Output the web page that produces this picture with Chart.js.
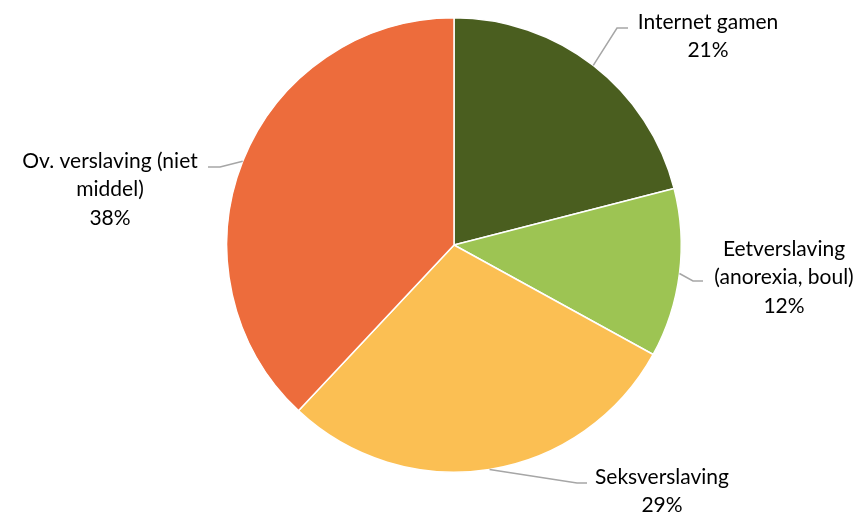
<!DOCTYPE html>
<html>
<head>
<meta charset="utf-8">
<script src="https://cdn.jsdelivr.net/npm/chart.js@4/dist/chart.umd.min.js"></script>
<style>
  html, body { margin:0; padding:0; background:#fff; }
  #wrap { width:865px; height:515px; }
</style>
</head>
<body>
<div id="wrap"><canvas id="pie" width="865" height="515"></canvas></div>
<script>
// --------- DATA ----------
const categories = ['Internet gamen', 'Eetverslaving (anorexia, boul)', 'Seksverslaving', 'Ov. verslaving (niet middel)'];
const labelLines = [
  ['Internet gamen'],
  ['Eetverslaving', '(anorexia, boul)'],
  ['Seksverslaving'],
  ['Ov. verslaving (niet', 'middel)']
];
const shares = [21, 12, 29, 38];
const colors = ['#4a5e1f', '#9dc453', '#fbbf53', '#ed6c3c'];

// --------- LABEL LAYOUT (elbow + line end + text block) ----------
const labelLayout = [
  {elbow:[617,28],  end:[628,28],  tx:708, ty:22},
  {elbow:[693,281], end:[703,281], tx:784, ty:249},
  {elbow:[577,483], end:[587,483], tx:662, ty:477},
  {elbow:[220,167], end:[208,167], tx:110, ty:161}
];

const calloutPlugin = {
  id:'callouts',
  afterDraw(chart){
    const ctx = chart.ctx;
    const meta = chart.getDatasetMeta(0);
    ctx.save();
    meta.data.forEach((arc, i)=>{
      const p = arc.getProps(['x','y','startAngle','endAngle','outerRadius'], true);
      const mid = (p.startAngle + p.endAngle) / 2;
      const sx = p.x + Math.cos(mid) * p.outerRadius;
      const sy = p.y + Math.sin(mid) * p.outerRadius;
      const L = labelLayout[i];
      ctx.strokeStyle = '#a6a6a6';
      ctx.lineWidth = 1.5;
      ctx.beginPath();
      ctx.moveTo(sx, sy);
      ctx.lineTo(L.elbow[0], L.elbow[1]);
      ctx.lineTo(L.end[0], L.end[1]);
      ctx.stroke();

      ctx.fillStyle = '#000';
      ctx.font = '21px Lato, "Liberation Sans", sans-serif';
      ctx.textAlign = 'center';
      ctx.textBaseline = 'middle';
      const lines = labelLines[i].concat([shares[i] + '%']);
      lines.forEach((t, k)=> ctx.fillText(t, L.tx, L.ty + k * 28.7));
    });
    ctx.restore();
  }
};

new Chart(document.getElementById('pie'), {
  type:'pie',
  data:{
    labels: categories,
    datasets:[{
      data: shares,
      backgroundColor: colors,
      borderColor:'#ffffff',
      borderWidth:1.5
    }]
  },
  options:{
    responsive:false,
    maintainAspectRatio:false,
    animation:false,
    layout:{padding:{left:226, right:183, top:17, bottom:42}},
    plugins:{legend:{display:false}, tooltip:{enabled:false}}
  },
  plugins:[calloutPlugin]
});
</script>
</body>
</html>
